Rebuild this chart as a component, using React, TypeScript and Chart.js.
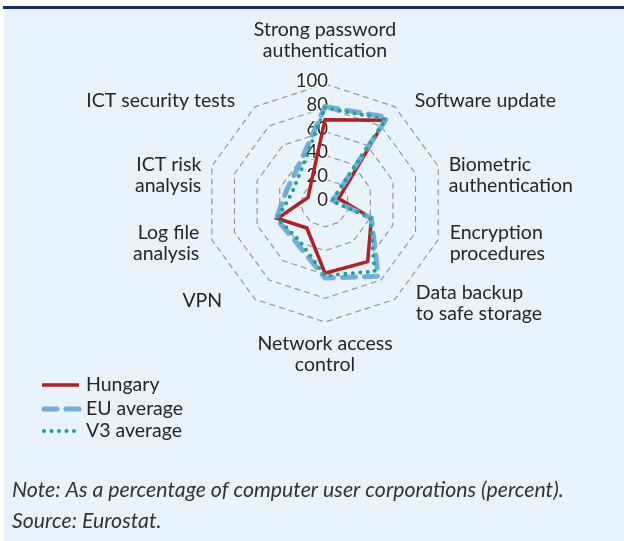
import React, { useEffect, useRef } from "react";
import { Chart, registerables } from "chart.js";

Chart.register(...registerables);

const categories: string[][] = [
  ["Strong password", "authentication"],
  ["Software update"],
  ["Biometric", "authentication"],
  ["Encryption", "procedures"],
  ["Data backup", "to safe storage"],
  ["Network access", "control"],
  ["VPN"],
  ["Log file", "analysis"],
  ["ICT risk", "analysis"],
  ["ICT security tests"],
];
const hungary = [70, 86, 12, 41, 61, 59, 26, 42, 15, 20];
const euAverage = [81, 89, 7, 41, 76, 63, 41, 43, 34, 38];
const v3Average = [80, 87, 6, 40, 71, 61, 38, 42, 29, 34];
const tickValues = [0, 20, 40, 60, 80, 100];
const seriesNames = ["Hungary", "EU average", "V3 average"];
const noteLines = [
  "Note: As a percentage of computer user corporations (percent).",
  "Source: Eurostat.",
];

const FONT = "Lato, 'Open Sans', sans-serif";
const TEXT = "#262626";
const BG = "#e8f3fb";

// label nudges [dx, dy] relative to anchor (layout only)
const labelNudge: number[][] = [
  [0, -12.5], [14, 2.5], [1, 12], [2, 0], [15, -4],
  [0, 1.5], [-27, -7], [-3, 0], [-1, 12], [-14, 2.5],
];

const decorPlugin = {
  id: "decor",
  beforeDraw(chart: any) {
    const ctx = chart.ctx;
    ctx.save();
    ctx.fillStyle = "#ffffff";
    ctx.fillRect(0, 0, chart.width, chart.height);
    ctx.fillStyle = BG;
    ctx.fillRect(4, 9, chart.width - 4, chart.height - 9);
    ctx.fillStyle = "#1b2a6b";
    ctx.fillRect(3, 6, chart.width - 3, 3);
    ctx.restore();
  },
  beforeDatasetsDraw(chart: any) {
    const ctx = chart.ctx;
    const scale = chart.scales.r;
    ctx.save();
    ctx.font = `18.5px ${FONT}`;
    ctx.textAlign = "right";
    ctx.textBaseline = "middle";
    ctx.lineJoin = "round";
    tickValues.forEach((v) => {
      const d = scale.getDistanceFromCenterForValue(v);
      const x = scale.xCenter + 3;
      const y = scale.yCenter - d - 3;
      ctx.strokeStyle = "rgba(255,255,255,0.9)";
      ctx.lineWidth = 3;
      ctx.strokeText(String(v), x, y);
      ctx.fillStyle = TEXT;
      ctx.fillText(String(v), x, y);
    });
    ctx.restore();
  },
  afterDraw(chart: any) {
    const ctx = chart.ctx;
    const scale = chart.scales.r;
    ctx.save();
    ctx.fillStyle = TEXT;
    ctx.font = `19.5px ${FONT}`;
    ctx.textBaseline = "middle";
    const lh = 21;
    const dist = scale.drawingArea + 10;
    chart.data.labels.forEach((lbl: string[], i: number) => {
      const p = scale.getPointPosition(i, dist);
      const ang = (i / chart.data.labels.length) * Math.PI * 2;
      const s = Math.sin(ang);
      const c = Math.cos(ang);
      const h = lbl.length * lh;
      const [nx, ny] = labelNudge[i];
      let cy: number;
      let align: CanvasTextAlign;
      if (Math.abs(s) < 0.01) {
        align = "center";
        cy = c > 0 ? p.y - h / 2 : p.y + h / 2;
      } else {
        align = s > 0 ? "left" : "right";
        cy = p.y;
      }
      cy += ny;
      ctx.textAlign = align;
      lbl.forEach((line, k) => {
        ctx.fillText(line, p.x + nx, cy - h / 2 + lh / 2 + k * lh);
      });
    });

    // legend
    const legendY = [385, 409, 431];
    chart.data.datasets.forEach((ds: any, i: number) => {
      const y = legendY[i];
      ctx.save();
      ctx.strokeStyle = ds.borderColor;
      ctx.lineWidth = ds.borderWidth;
      ctx.lineCap = ds.borderCapStyle || "butt";
      ctx.setLineDash(ds.borderDash || []);
      ctx.beginPath();
      ctx.moveTo(ds.borderCapStyle === "round" ? 44 : 42, y);
      ctx.lineTo(79, y);
      ctx.stroke();
      ctx.restore();
      ctx.textAlign = "left";
      ctx.fillStyle = TEXT;
      ctx.font = `19.5px ${FONT}`;
      ctx.fillText(ds.label, 86, y);
    });

    // notes
    ctx.font = `italic 21.3px ${FONT}`;
    ctx.fillStyle = "#333333";
    ctx.textAlign = "left";
    const noteY = [490, 521];
    noteLines.forEach((t, i) => ctx.fillText(t, 12, noteY[i]));
    ctx.restore();
  },
};

export default function App() {
  const ref = useRef<HTMLCanvasElement>(null);
  useEffect(() => {
    if (!ref.current) return;
    const chart = new Chart(ref.current, {
      type: "radar",
      data: {
        labels: categories,
        datasets: [
          {
            label: seriesNames[0],
            data: hungary,
            borderColor: "#b31f24",
            backgroundColor: "transparent",
            borderWidth: 3.5,
            pointRadius: 0,
            fill: false,
            order: 2,
          },
          {
            label: seriesNames[1],
            data: euAverage,
            borderColor: "#74addd",
            backgroundColor: "transparent",
            borderWidth: 5,
            borderDash: [13, 9],
            borderCapStyle: "round",
            pointRadius: 0,
            fill: false,
            order: 1,
          },
          {
            label: seriesNames[2],
            data: v3Average,
            borderColor: "#17a597",
            backgroundColor: "transparent",
            borderWidth: 4,
            borderDash: [0, 7.5],
            borderCapStyle: "round",
            pointRadius: 0,
            fill: false,
            order: 0,
          },
        ],
      } as any,
      options: {
        responsive: false,
        animation: false,
        layout: { padding: { left: 206, right: 180, top: 84, bottom: 219 } },
        plugins: { legend: { display: false }, tooltip: { enabled: false } },
        elements: { line: { tension: 0 } },
        scales: {
          r: {
            min: 0,
            max: 100,
            ticks: { display: false, stepSize: 20 },
            grid: { color: "#8f8f8f", lineWidth: 1.1 },
            border: { dash: [6, 4] },
            angleLines: { display: false },
            pointLabels: { display: false },
          },
        },
      } as any,
      plugins: [decorPlugin],
    });
    return () => chart.destroy();
  }, []);
  return (
    <div style={{ position: "absolute", left: 0, top: 0, width: 624, height: 541 }}>
      <canvas ref={ref} width={624} height={541} style={{ display: "block", width: 624, height: 541 }} />
    </div>
  );
}
